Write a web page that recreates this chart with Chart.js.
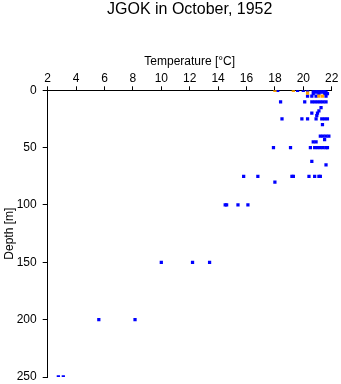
<!DOCTYPE html>
<html>
<head>
<meta charset="utf-8">
<script src="https://cdn.jsdelivr.net/npm/chart.js@4.4.0/dist/chart.umd.min.js"></script>
<style>
  html, body { margin: 0; padding: 0; background: #fff; }
  #wrap { width: 341px; height: 384px; }
</style>
</head>
<body>
<div id="wrap"><canvas id="chart"></canvas></div>
<script>
// Blue casts: temperature [°C] with the matching depth [m]
const blueTemp = [
  18.2, 19.6, 20.0, 20.3, 20.7, 20.9, 21.0, 21.2, 21.4, 21.5,
  20.8, 21.0, 21.2, 21.4, 21.6,
  20.7, 21.1, 21.5, 21.7,
  20.3, 20.6, 20.9, 21.6,
  18.4, 20.1, 20.6, 20.8, 21.0, 21.2, 21.4, 21.6,
  21.25, 21.1, 20.6, 21.0, 20.95,
  18.5, 19.9, 20.3, 20.9, 21.3, 21.5, 21.7,
  21.35,
  21.2, 21.4, 21.6, 21.8, 21.5,
  20.7, 20.9,
  17.9, 19.1, 20.5, 20.8, 21.0, 21.2, 21.4, 21.6, 21.7,
  20.6, 21.6,
  15.8, 16.8, 19.2, 19.3, 20.4, 20.8, 21.1, 21.2,
  18.0,
  14.5, 14.6, 15.4, 16.1,
  10.0, 12.2, 13.4,
  5.6, 8.15,
  2.75, 3.1
];
const blueDepth = [
  0, 0, 0, 0, 0, 0, 0, 0, 0, 0,
  1.5, 1.5, 1.5, 1.5, 1.5,
  3, 3, 3, 3,
  5, 5, 5, 5,
  10, 10, 10, 10, 10, 10, 10, 10,
  15, 18, 20, 20, 22,
  25, 25, 25, 25, 25, 25, 25,
  30,
  40, 40, 40, 40, 43,
  45, 45,
  50, 50, 50, 50, 50, 50, 50, 50, 50,
  62, 65,
  75, 75, 75, 75, 75, 75, 75, 75,
  80,
  100, 100, 100, 100,
  150, 150, 150,
  200, 200,
  250, 250
];

// Orange casts
const orangeTemp = [18.0, 19.3, 20.3, 21.1, 21.35];
const orangeDepth = [0, 0, 2.5, 5, 5];

const xTicks = [2, 4, 6, 8, 10, 12, 14, 16, 18, 20, 22];
const yTicks = [0, 50, 100, 150, 200, 250];

const toPoints = (xs, ys) => xs.map((x, i) => ({ x: x, y: ys[i] }));

const tickFont = { family: 'Liberation Sans, Arial, sans-serif', size: 12 };

new Chart(document.getElementById('chart'), {
  type: 'scatter',
  data: {
    datasets: [
      {
        // drawn last = on top
        data: toPoints(orangeTemp, orangeDepth),
        backgroundColor: 'rgb(255,165,0)',
        borderWidth: 0,
        pointStyle: 'rect',
        pointRadius: 2.3
      },
      {
        data: toPoints(blueTemp, blueDepth),
        backgroundColor: 'rgb(0,0,255)',
        borderWidth: 0,
        pointStyle: 'rect',
        pointRadius: 2.3
      }
    ]
  },
  options: {
    responsive: true,
    maintainAspectRatio: false,
    animation: false,
    layout: { padding: { top: 0, left: 0, right: 9.3, bottom: 2 } },
    plugins: {
      legend: { display: false },
      tooltip: { enabled: false },
      title: {
        display: true,
        fullSize: false, // centre over the plot area
        text: 'JGOK in October, 1952',
        color: '#000',
        font: { family: 'Liberation Sans, Arial, sans-serif', size: 16, weight: 'normal' },
        padding: { top: 0, bottom: 0 }
      }
    },
    scales: {
      x: {
        type: 'linear',
        position: 'top',
        min: 2,
        max: 22,
        afterBuildTicks: (scale) => { scale.ticks = xTicks.map(v => ({ value: v })); },
        afterFit: (scale) => { scale.height = 71.1; },
        ticks: { color: '#000', font: tickFont, padding: 0, maxRotation: 0 },
        grid: { display: true, drawOnChartArea: false, drawTicks: true, tickLength: 4, color: '#000' },
        border: { display: true, color: '#000', width: 1 },
        title: {
          display: true,
          text: 'Temperature [°C]',
          color: '#000',
          font: tickFont,
          padding: { top: 35, bottom: 0 }
        }
      },
      y: {
        type: 'linear',
        reverse: true,
        min: 0,
        max: 250,
        afterBuildTicks: (scale) => { scale.ticks = yTicks.map(v => ({ value: v })); },
        afterFit: (scale) => {
          scale.width = 47.7;
          scale.paddingBottom = 7; // only half a label below the last tick
        },
        ticks: { color: '#000', font: tickFont, padding: 6 },
        grid: { display: true, drawOnChartArea: false, drawTicks: true, tickLength: 5, color: '#000' },
        border: { display: true, color: '#000', width: 1 },
        title: {
          display: true,
          text: 'Depth [m]',
          color: '#000',
          font: tickFont,
          padding: { top: 2, bottom: 0 }
        }
      }
    }
  }
});
</script>
</body>
</html>
